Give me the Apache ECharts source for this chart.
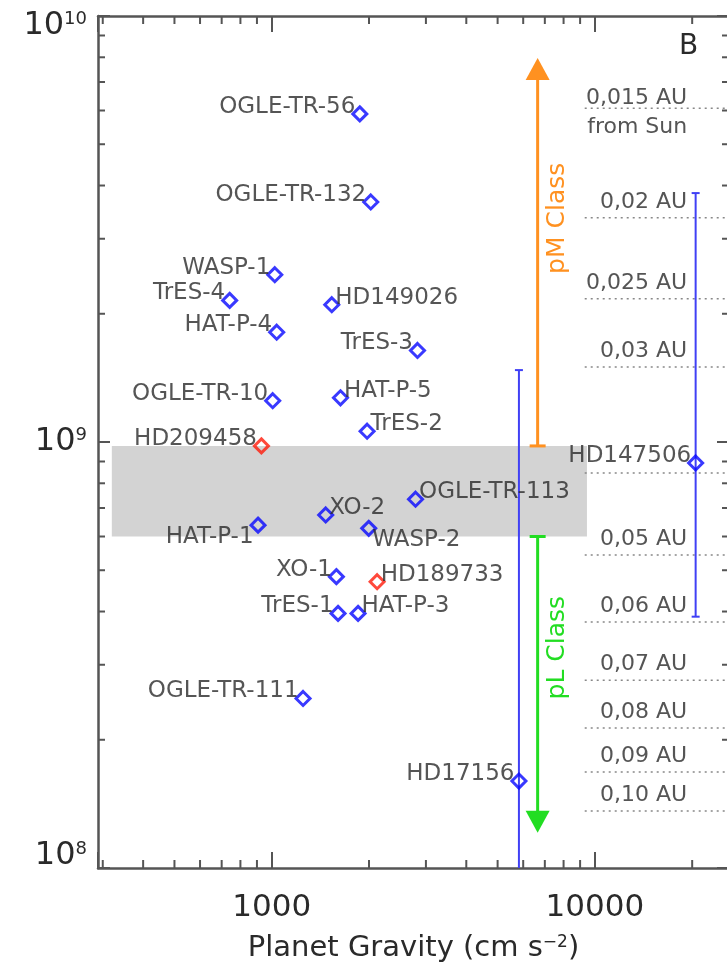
<!DOCTYPE html>
<html>
<head>
<meta charset="utf-8">
<script src="https://cdn.jsdelivr.net/npm/echarts@6/dist/echarts.min.js"></script>
<style>
  html, body { margin: 0; padding: 0; background: #fff; }
  #chart { width: 727px; height: 970px; }
</style>
</head>
<body>
<div id="chart"></div>
<script>
// transiting planets: surface gravity (cm s^-2) vs incident flux
const planetNames = ['OGLE-TR-56', 'OGLE-TR-132', 'WASP-1', 'TrES-4', 'HAT-P-4', 'HD149026',
  'TrES-3', 'OGLE-TR-10', 'HAT-P-5', 'TrES-2', 'HD209458', 'XO-2', 'OGLE-TR-113', 'HAT-P-1',
  'WASP-2', 'XO-1', 'HD189733', 'TrES-1', 'HAT-P-3', 'OGLE-TR-111', 'HD17156', 'HD147506'];
const gravity = [1873, 2025, 1022, 741, 1036, 1534,
  2825, 1007, 1632, 1973, 929, 1469, 2786, 907,
  1996, 1585, 2119, 1604, 1850, 1250, 5820, 20500];
const flux = [5.89e9, 3.66e9, 2.47e9, 2.15e9, 1.81e9, 2.10e9,
  1.64e9, 1.25e9, 1.27e9, 1.06e9, 9.79e8, 6.74e8, 7.34e8, 6.38e8,
  6.27e8, 4.83e8, 4.70e8, 3.96e8, 3.96e8, 2.50e8, 1.60e8, 8.93e8];
const redPlanets = ['HD209458', 'HD189733'];

// label placement groups
const rightLabels = ['HD149026', 'HAT-P-5', 'TrES-2', 'XO-2', 'OGLE-TR-113', 'WASP-2', 'HD189733', 'HAT-P-3'];
const belowLabels = ['HAT-P-1', 'WASP-2'];

// eccentric planets: range of flux along the orbit
const barGravity = [5820, 20500];
const barLow = [5.0e7, 3.89e8];
const barHigh = [1.475e9, 3.84e9];

// class arrows
const classNames = ['pM Class', 'pL Class'];
const classColors = ['#ff9120', '#22dd22'];
const classGravity = [6650, 6650];
const classFrom = [9.79e8, 6.0e8];
const classTo = [7.97e9, 1.21e8];
const classLabelAt = [3.35e9, 3.29e8];

// shaded transition band
const bandGravity = [320, 9450];
const bandFlux = [6.0e8, 9.79e8];

// orbital distance reference lines
const auLabels = ['0,015 AU\nfrom Sun', '0,02 AU', '0,025 AU', '0,03 AU', '', '0,05 AU',
  '0,06 AU', '0,07 AU', '0,08 AU', '0,09 AU', '0,10 AU'];
const auFlux = [6.07e9, 3.36e9, 2.17e9, 1.50e9, 8.46e8, 5.43e8, 3.78e8, 2.76e8, 2.13e8, 1.68e8, 1.36e8];
const auLineFrom = 9300;
const auLabelAt = 19300;

// axes
const xMin = 290, xMax = 26000, yMin = 1e8, yMax = 1e10;
const xMinorTicks = [300, 400, 500, 600, 700, 800, 900, 2000, 3000, 4000, 5000, 6000, 7000, 8000, 9000, 20000];
const yMinorTicks = [2e8, 3e8, 4e8, 5e8, 6e8, 7e8, 8e8, 9e8, 2e9, 3e9, 4e9, 5e9, 6e9, 7e9, 8e9, 9e9];

const FONT = 'DejaVu Sans';
const AXIS_COLOR = '#555';
const TEXT_COLOR = '#2a2a2a';

function isDecade(v) {
  const l = Math.log10(v);
  return Math.abs(l - Math.round(l)) < 1e-6;
}

function planetItem(i) {
  const name = planetNames[i];
  const right = rightLabels.includes(name);
  const below = belowLabels.includes(name);
  return {
    name: name,
    value: [gravity[i], flux[i]],
    label: {
      position: right ? 'right' : 'left',
      distance: right ? -5 : -4,
      offset: [0, below ? 12 : -7]
    }
  };
}

const blueData = [], redData = [];
planetNames.forEach((n, i) => {
  (redPlanets.includes(n) ? redData : blueData).push(planetItem(i));
});

const planetLabel = {
  show: true, formatter: '{b}', color: TEXT_COLOR, fontSize: 23, fontFamily: FONT
};

const supRich = function (pad) {
  const base = { fontSize: 32, color: TEXT_COLOR, fontFamily: FONT, padding: pad };
  const sup = { fontSize: 18, color: TEXT_COLOR, fontFamily: FONT, verticalAlign: 'top', padding: pad };
  return [base, sup];
};
const [bN, sN] = supRich([0, 0, 0, 0]);
const [bT, sT] = supRich([20, 0, 0, 0]);
const [bB, sB] = supRich([0, 0, 24, 0]);

let chart = echarts.init(document.getElementById('chart'));

let option = {
  animation: false,
  backgroundColor: '#fff',
  grid: { left: 98, right: -2, top: 16, bottom: 102, outerBoundsMode: 'none', containLabel: false },
  xAxis: [
    {
      type: 'log', logBase: 10, min: xMin, max: xMax, position: 'bottom',
      name: 'Planet Gravity (cm s{sup|−2})',
      nameLocation: 'middle', nameGap: 66,
      nameTextStyle: {
        fontSize: 29, color: TEXT_COLOR, fontFamily: FONT,
        rich: { sup: { fontSize: 17, color: TEXT_COLOR, fontFamily: FONT, verticalAlign: 'top' } }
      },
      axisLine: { show: true, lineStyle: { color: AXIS_COLOR, width: 2.5 } },
      axisTick: { show: true, inside: true, length: 16, lineStyle: { color: AXIS_COLOR, width: 2 } },
      axisLabel: {
        margin: 24, fontSize: 31, color: TEXT_COLOR, fontFamily: FONT,
        formatter: v => isDecade(v) ? String(Math.round(v)) : ''
      },
      splitLine: { show: false }
    },
    {
      type: 'log', logBase: 10, min: xMin, max: xMax, position: 'top',
      axisLine: { show: true, lineStyle: { color: AXIS_COLOR, width: 2.5 } },
      axisTick: { show: true, inside: true, length: 16, lineStyle: { color: AXIS_COLOR, width: 2 } },
      axisLabel: { show: false },
      splitLine: { show: false }
    }
  ],
  yAxis: [
    {
      type: 'log', logBase: 10, min: yMin, max: yMax, position: 'left',
      axisLine: { show: true, lineStyle: { color: AXIS_COLOR, width: 2.5 } },
      axisTick: { show: true, inside: true, length: 12, lineStyle: { color: AXIS_COLOR, width: 2 } },
      axisLabel: {
        margin: 11, showMinLabel: true, showMaxLabel: true,
        formatter: function (v) {
          if (!isDecade(v)) return '';
          const e = Math.round(Math.log10(v));
          if (v >= yMax * 0.999) return '{bT|10}{sT|' + e + '}';
          if (v <= yMin * 1.001) return '{bB|10}{sB|' + e + '}';
          return '{bN|10}{sN|' + e + '}';
        },
        rich: { bN: bN, sN: sN, bT: bT, sT: sT, bB: bB, sB: sB }
      },
      splitLine: { show: false }
    },
    {
      type: 'log', logBase: 10, min: yMin, max: yMax, position: 'right',
      axisLine: { show: true, lineStyle: { color: AXIS_COLOR, width: 2.5 } },
      axisTick: { show: true, inside: true, length: 12, lineStyle: { color: AXIS_COLOR, width: 2 } },
      axisLabel: { show: false },
      splitLine: { show: false }
    }
  ],
  graphic: [
    { type: 'text', left: 679, top: 33, style: { text: 'B', font: '28px "DejaVu Sans"', fill: TEXT_COLOR } }
  ],
  series: [
    {
      // shaded band
      type: 'custom', z: 1, silent: true,
      data: [[bandGravity[0], bandFlux[0], bandGravity[1], bandFlux[1]]],
      encode: { x: [0, 2], y: [1, 3] },
      renderItem: function (params, api) {
        const p0 = api.coord([api.value(0), api.value(1)]);
        const p1 = api.coord([api.value(2), api.value(3)]);
        return {
          type: 'rect',
          shape: { x: p0[0], y: p1[1], width: p1[0] - p0[0], height: p0[1] - p1[1] },
          style: { fill: '#d3d3d3' }
        };
      }
    },
    {
      // distance reference lines
      type: 'custom', z: 2, silent: true, clip: true,
      data: auFlux.map((f, i) => [auLineFrom, f, i]),
      renderItem: function (params, api) {
        const f = api.value(1);
        const label = auLabels[api.value(2)];
        const p0 = api.coord([auLineFrom, f]);
        const p1 = api.coord([xMax, f]);
        const pt = api.coord([auLabelAt, f]);
        const twoLines = label.indexOf('\n') >= 0;
        return {
          type: 'group',
          children: [
            {
              type: 'line',
              shape: { x1: p0[0], y1: p0[1], x2: p1[0], y2: p1[1] },
              style: { stroke: '#888', lineWidth: 1.5, lineDash: [2, 4] }
            },
            {
              type: 'text', x: pt[0], y: twoLines ? pt[1] + 4 : pt[1] - 1,
              style: {
                text: label, fill: '#555', font: '22px "DejaVu Sans"',
                align: 'right', verticalAlign: twoLines ? 'middle' : 'bottom', lineHeight: 29
              }
            }
          ]
        };
      }
    },
    {
      // class arrows
      type: 'custom', z: 3, silent: true,
      data: classNames.map((n, i) => [classGravity[i], classFrom[i], classTo[i], classLabelAt[i], i]),
      encode: { x: 0, y: [1, 2] },
      renderItem: function (params, api) {
        const i = api.value(4);
        const color = classColors[i];
        const a = api.coord([api.value(0), api.value(1)]);
        const b = api.coord([api.value(0), api.value(2)]);
        const t = api.coord([api.value(0), api.value(3)]);
        const dir = b[1] > a[1] ? 1 : -1;
        const head = 22, half = 12;
        return {
          type: 'group',
          children: [
            { type: 'line', shape: { x1: a[0], y1: a[1], x2: b[0], y2: b[1] - dir * (head - 2) },
              style: { stroke: color, lineWidth: 3 } },
            { type: 'line', shape: { x1: a[0] - 8, y1: a[1], x2: a[0] + 8, y2: a[1] },
              style: { stroke: color, lineWidth: 3 } },
            { type: 'polygon', shape: { points: [[b[0], b[1]], [b[0] - half, b[1] - dir * head], [b[0] + half, b[1] - dir * head]] },
              style: { fill: color } },
            { type: 'text', x: t[0] + 20, y: t[1], rotation: Math.PI / 2,
              style: { text: classNames[i], fill: color, font: '25px "DejaVu Sans"', align: 'center', verticalAlign: 'middle' } }
          ]
        };
      }
    },
    {
      // flux range bars
      type: 'custom', z: 4, silent: true, clip: true,
      data: barGravity.map((g, i) => [g, barLow[i], barHigh[i]]),
      encode: { x: 0, y: [1, 2] },
      renderItem: function (params, api) {
        const lo = api.coord([api.value(0), api.value(1)]);
        const hi = api.coord([api.value(0), api.value(2)]);
        const st = { stroke: '#4040f5', lineWidth: 2 };
        return {
          type: 'group',
          children: [
            { type: 'line', shape: { x1: lo[0], y1: lo[1], x2: hi[0], y2: hi[1] }, style: st },
            { type: 'line', shape: { x1: hi[0] - 4, y1: hi[1], x2: hi[0] + 4, y2: hi[1] }, style: st },
            { type: 'line', shape: { x1: lo[0] - 4, y1: lo[1], x2: lo[0] + 4, y2: lo[1] }, style: st }
          ]
        };
      }
    },
    {
      // minor ticks on bottom/top axes
      type: 'custom', z: 5, silent: true,
      data: xMinorTicks.map(v => [v, yMin]),
      renderItem: function (params, api) {
        const b = api.coord([api.value(0), yMin]);
        const t = api.coord([api.value(0), yMax]);
        const st = { stroke: AXIS_COLOR, lineWidth: 2 };
        return {
          type: 'group',
          children: [
            { type: 'line', shape: { x1: b[0], y1: b[1], x2: b[0], y2: b[1] - 8 }, style: st },
            { type: 'line', shape: { x1: t[0], y1: t[1], x2: t[0], y2: t[1] + 8 }, style: st }
          ]
        };
      }
    },
    {
      // minor ticks on left/right axes
      type: 'custom', z: 5, silent: true,
      data: yMinorTicks.map(v => [xMin, v]),
      renderItem: function (params, api) {
        const l = api.coord([xMin, api.value(1)]);
        const r = api.coord([xMax, api.value(1)]);
        const st = { stroke: AXIS_COLOR, lineWidth: 2 };
        return {
          type: 'group',
          children: [
            { type: 'line', shape: { x1: l[0], y1: l[1], x2: l[0] + 7, y2: l[1] }, style: st },
            { type: 'line', shape: { x1: r[0], y1: r[1], x2: r[0] - 7, y2: r[1] }, style: st }
          ]
        };
      }
    },
    {
      name: 'transiting', type: 'scatter', z: 6, silent: true,
      symbol: 'diamond', symbolSize: 14,
      itemStyle: { color: 'rgba(255,255,255,0)', borderColor: '#0808ff', borderWidth: 3 },
      label: planetLabel,
      data: blueData
    },
    {
      name: 'reference', type: 'scatter', z: 6, silent: true,
      symbol: 'diamond', symbolSize: 14,
      itemStyle: { color: 'rgba(255,255,255,0)', borderColor: '#ff1a0a', borderWidth: 3 },
      label: planetLabel,
      data: redData
    }
  ]
};

chart.setOption(option);
</script>
</body>
</html>
